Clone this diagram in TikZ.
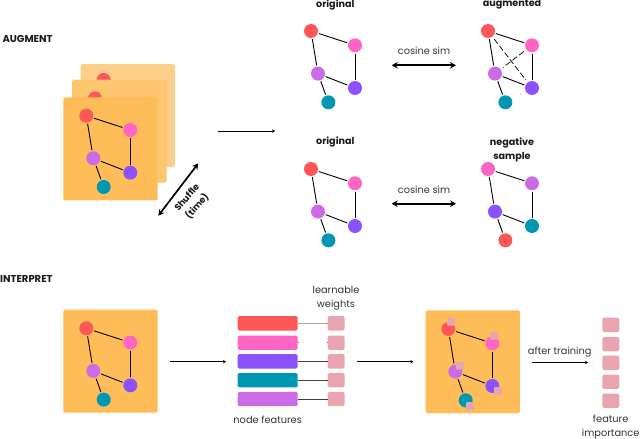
\documentclass[tikz,border=0pt]{standalone}
\usepackage{fontspec}
\setmainfont{Poppins}
\usetikzlibrary{arrows.meta}
\definecolor{cred}{HTML}{FF5757}
\definecolor{cpink}{HTML}{FF66C4}
\definecolor{corchid}{HTML}{CB6CE6}
\definecolor{cpurple}{HTML}{8C52FF}
\definecolor{cteal}{HTML}{0097B2}
\definecolor{cframe}{HTML}{FFBD59}
\definecolor{cframemid}{HTML}{FFC670}
\definecolor{cframeback}{HTML}{FBCE8A}
\definecolor{cweight}{HTML}{E8A5AF}
\definecolor{ctext}{HTML}{333333}
\begin{document}
\begin{tikzpicture}
 [
  x=1pt, y=-1pt,
  >=Stealth,
  point/.style   = {circle, inner sep = 0pt, minimum size = 14pt},
  edge/.style    = {line width = .9pt, shorten > = 1pt, shorten < = 1pt},
  frame/.style   = {rounded corners = 1.5pt, inner sep = 0pt, minimum width = 94.4pt, minimum height = 103pt},
  bar/.style     = {rounded corners = 1.5pt, inner sep = 0pt, minimum width = 60pt, minimum height = 14.4pt},
  weight/.style  = {rounded corners = 1.5pt, fill = cweight, inner sep = 0pt, minimum width = 17pt, minimum height = 14.4pt},
  mini/.style    = {rounded corners = 1pt, fill = cweight, inner sep = 0pt, minimum size = 8pt},
  heading/.style = {font = \bfseries\fontsize{9.6}{9.6}\selectfont, inner sep = 0pt, text = black!90},
  caption/.style = {font = \fontsize{9.8}{14.3}\selectfont, inner sep = 0pt, text = ctext, align = center},
  thinarrow/.style = {->, line width = .8pt, >={Stealth[length=3pt,width=3.5pt]}},
  bigarrow/.style  = {<->, line width = 1.7pt, >={Stealth[length=6pt,width=6.5pt]}},
  link/.style    = {line width = .7pt},
  sketchy/.style = {line width = .7pt, dash pattern = on 6pt off 2.5pt, shorten > = 3pt, shorten < = 3pt},
 ]
 % a graph: name, position of the top left node, then the five colours
 \def\graphat#1#2#3#4#5#6#7#8{
  \begin{scope}[shift={(#2,#3)}]
   \node[point, fill=#4] (#1a) at (0,0) {};
   \node[point, fill=#5] (#1b) at (44,14.3) {};
   \node[point, fill=#6] (#1c) at (7,42.6) {};
   \node[point, fill=#7] (#1d) at (44,57) {};
   \node[point, fill=#8] (#1e) at (17.4,71.3) {};
   \draw[edge] (#1a) -- (#1b);
   \draw[edge] (#1a) -- (#1c);
   \draw[edge] (#1b) -- (#1d);
   \draw[edge] (#1c) -- (#1d);
   \draw[edge] (#1c) -- (#1e);
  \end{scope}
 }

 \useasboundingbox (0,0) rectangle (640,439);

 \node[heading, anchor=west, font=\bfseries\fontsize{10}{10}\selectfont] (augment) at (2.3,38.5) {AUGMENT};
 \node[heading, anchor=west, font=\bfseries\fontsize{10}{10}\selectfont] (interpret) at (0,279) {INTERPRET};

 % stack of frames
 \node[frame, fill=cframeback] (back) at (127.7,115.7) {};
 \node[point, fill=cred] (backred) at (103.7,80) {};
 \node[frame, fill=cframemid] (mid) at (119.4,131.2) {};
 \node[point, fill=cred] (midred) at (95,98.3) {};
 \node[frame, fill=cframe] (front) at (110.5,148.8) {};
 \graphat{f}{86.3}{115.7}{cred}{cpink}{corchid}{cpurple}{cteal}

 \coordinate (shuffleA) at (198.3,163.3);
 \coordinate (shuffleB) at (158.3,215.7);
 \draw[bigarrow] (shuffleA) -- (shuffleB);
 \node[heading, rotate=49, align=center, font=\bfseries\fontsize{9}{13.5}\selectfont] (shuffle) at (192.3,202.3) {Shuffle\\(time)};

 \coordinate (toviewsA) at (218.3,131);
 \coordinate (toviewsB) at (275,131);
 \draw[thinarrow] (toviewsA) -- (toviewsB);

 % the pairs of views
 \node[heading] (orig1) at (335.3,4.5) {original};
 \node[heading] (aug) at (512,4.5) {augmented};
 \graphat{o}{311}{31}{cred}{cpink}{corchid}{cpurple}{cteal}
 \graphat{g}{488}{31}{cred}{cpink}{corchid}{cpurple}{cteal}
 \draw[sketchy] (ga) -- (gd);
 \draw[sketchy] (gb) -- (gc);
 \draw[sketchy, shorten > = 6pt, shorten < = 10pt] (ge) -- (gd);

 \node[heading] (orig2) at (335.3,142) {original};
 \node[heading, align=center, font=\bfseries\fontsize{9.6}{14.3}\selectfont] (neg) at (512,149.8) {negative\\sample};
 \graphat{p}{311}{169}{cred}{cpink}{corchid}{cpurple}{cteal}
 \graphat{n}{488}{169}{cpink}{corchid}{cpurple}{cteal}{cred}

 \foreach \y/\n in {65.3/1, 203.7/2}
 {
  \coordinate (simL\n) at (391.7,\y);
  \coordinate (simR\n) at (456,\y);
  \draw[bigarrow] (simL\n) -- (simR\n);
  \node[caption] (sim\n) at (424,\y-14) {cosine sim};
 }

 % interpret row
 \node[frame, fill=cframe] (input) at (110.5,361.2) {};
 \graphat{i}{86.3}{328.3}{cred}{cpink}{corchid}{cpurple}{cteal}

 \coordinate (inA) at (170,361.7);
 \coordinate (inB) at (226,361.7);
 \draw[thinarrow] (inA) -- (inB);

 \foreach \y/\c/\n in {323.3/cred/1, 342.7/cpink/2, 361.3/cpurple/3, 380.2/cteal/4, 399/corchid/5}
 {
  \node[bar, fill=\c] (bar\n) at (267.7,\y) {};
  \node[weight] (w\n) at (336.2,\y) {};
 }
 \draw[link, black!35] (bar1) -- (w1);
 \draw[link, black!55, dash pattern = on 1pt off 28pt] (bar2) -- (w2);
 \foreach \n in {3,4,5}
  \draw[link, black!75] (bar\n) -- (w\n);

 \node[caption] (learn) at (336,298.2) {learnable\\weights};
 \node[caption] (feat) at (267.7,419.3) {node features};

 \coordinate (midA) at (357,361.7);
 \coordinate (midB) at (413.3,361.7);
 \draw[thinarrow] (midA) -- (midB);

 \node[frame, fill=cframe] (output) at (472.7,361.8) {};
 \graphat{t}{448.3}{329}{cred}{cpink}{corchid}{cpurple}{cteal}
 \node[mini] (ma) at (451,321.7) {};
 \node[mini] (mb) at (494,335.7) {};
 \node[mini] (mc) at (460,365.7) {};
 \node[mini] (md) at (498,391) {};
 \node[mini] (me) at (470,406) {};

 \coordinate (outA) at (531.7,362.5);
 \coordinate (outB) at (588,362.5);
 \draw[thinarrow] (outA) -- (outB);
 \node[caption] (train) at (559.7,352) {after training};

 \foreach \y/\n in {324.8/1, 344.2/2, 362.8/3, 381.7/4, 400.7/5}
  \node[weight] (imp\n) at (610.8,\y) {};
 \node[caption] (importance) at (610.7,426.9) {feature\\importance};
\end{tikzpicture}
\end{document}
